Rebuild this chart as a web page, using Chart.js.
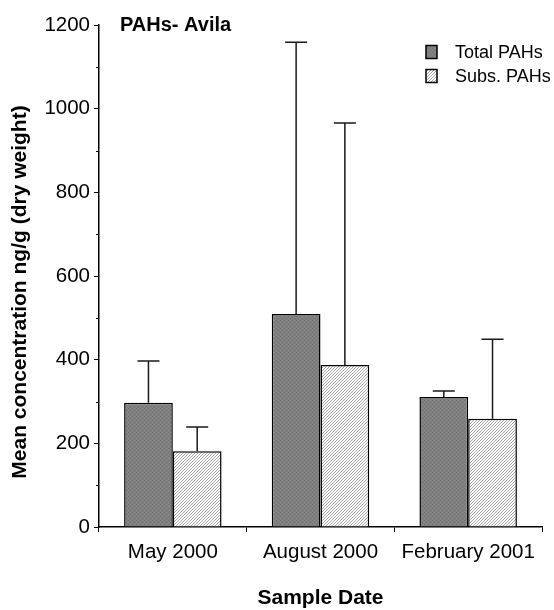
<!DOCTYPE html>
<html>
<head>
<meta charset="utf-8">
<script src="https://cdn.jsdelivr.net/npm/chart.js@4/dist/chart.umd.min.js"></script>
<style>
html,body{margin:0;padding:0;background:#fff;}
#wrap{width:554px;height:610px;position:relative;}
</style>
</head>
<body>
<div id="wrap"><canvas id="c" width="554" height="610"></canvas></div>
<script>
const categories = ["May 2000", "August 2000", "February 2001"];
const seriesNames = ["Total PAHs", "Subs. PAHs"];
const totalMeans = [297, 509, 311];
const totalErrTops = [397, 1159, 325];
const subsMeans = [181, 387, 259];
const subsErrTops = [239, 966, 449];
const yTicks = [0, 200, 400, 600, 800, 1000, 1200];
const yMinorTicks = [100, 300, 500, 700, 900, 1100];
const chartTitle = "PAHs- Avila";
const xTitle = "Sample Date";
const yTitle = "Mean concentration ng/g (dry weight)";

const FONT = "'Liberation Sans', Arial, Helvetica, sans-serif";

function makeDots() {
  const c = document.createElement('canvas'); c.width = 4; c.height = 4;
  const x = c.getContext('2d');
  x.fillStyle = '#7f7f7f'; x.fillRect(0, 0, 4, 4);
  x.fillStyle = '#727272'; x.fillRect(0, 0, 1, 1); x.fillRect(2, 2, 1, 1);
  x.fillStyle = '#898989'; x.fillRect(2, 0, 1, 1); x.fillRect(0, 2, 1, 1);
  return x.createPattern(c, 'repeat');
}
function makeHatch() {
  const c = document.createElement('canvas'); c.width = 3; c.height = 3;
  const x = c.getContext('2d');
  x.fillStyle = '#ffffff'; x.fillRect(0, 0, 3, 3);
  x.fillStyle = '#a6a6a6';
  for (let i = 0; i < 3; i++) x.fillRect(2 - i, i, 1, 1);
  return x.createPattern(c, 'repeat');
}
const dotFill = makeDots();
const hatchFill = makeHatch();
const errTops = [totalErrTops, subsErrTops];

const errorBarPlugin = {
  id: 'errorBars',
  afterDatasetsDraw(chart) {
    const ctx = chart.ctx;
    const y = chart.scales.y;
    ctx.save();
    ctx.strokeStyle = '#1a1a1a';
    ctx.lineWidth = 1.5;
    chart.data.datasets.forEach((ds, di) => {
      const meta = chart.getDatasetMeta(di);
      meta.data.forEach((bar, i) => {
        const top = y.getPixelForValue(errTops[di][i]);
        const cap = 11;
        ctx.beginPath();
        ctx.moveTo(bar.x, bar.y);
        ctx.lineTo(bar.x, top);
        ctx.moveTo(bar.x - cap, top);
        ctx.lineTo(bar.x + cap, top);
        ctx.stroke();
      });
    });
    ctx.restore();
  }
};

const decorPlugin = {
  id: 'decor',
  afterDraw(chart) {
    const ctx = chart.ctx;
    const a = chart.chartArea;
    const y = chart.scales.y;
    ctx.save();
    ctx.strokeStyle = '#000';
    ctx.lineWidth = 1;
    yMinorTicks.forEach(v => {
      const py = Math.round(y.getPixelForValue(v)) + 0.5;
      ctx.beginPath();
      ctx.moveTo(a.left - 3, py);
      ctx.lineTo(a.left, py);
      ctx.stroke();
    });
    ctx.fillStyle = '#000';
    ctx.font = 'bold 20px ' + FONT;
    ctx.textAlign = 'left';
    ctx.textBaseline = 'alphabetic';
    ctx.fillText(chartTitle, a.left + 21, 31);
    ctx.save();
    ctx.translate(20, 292);
    ctx.rotate(-Math.PI / 2);
    ctx.font = 'bold 21px ' + FONT;
    ctx.textAlign = 'center';
    ctx.textBaseline = 'middle';
    ctx.fillText(yTitle, 0, 0);
    ctx.restore();
    const bx = a.right - 116;
    const rows = [a.top + 27, a.top + 51];
    chart.data.datasets.forEach((ds, i) => {
      const cy = rows[i];
      ctx.fillStyle = ds.backgroundColor;
      ctx.fillRect(bx, cy - 6.5, 11, 13);
      ctx.strokeStyle = '#000';
      ctx.lineWidth = 1.5;
      ctx.strokeRect(bx, cy - 6.5, 11, 13);
      ctx.fillStyle = '#000';
      ctx.font = '18px ' + FONT;
      ctx.textAlign = 'left';
      ctx.textBaseline = 'middle';
      ctx.fillText(ds.label, bx + 29, cy + 1);
    });
    ctx.restore();
  }
};

new Chart(document.getElementById('c'), {
  type: 'bar',
  data: {
    labels: categories,
    datasets: [
      { label: seriesNames[0], data: totalMeans, backgroundColor: dotFill, borderColor: '#000', borderWidth: 1.5 },
      { label: seriesNames[1], data: subsMeans, backgroundColor: hatchFill, borderColor: '#000', borderWidth: 1.5 }
    ]
  },
  options: {
    responsive: false,
    animation: false,
    devicePixelRatio: 1,
    categoryPercentage: 0.66,
    barPercentage: 1.0,
    layout: { padding: { left: 0, right: 12, top: 25, bottom: 0 } },
    plugins: {
      legend: { display: false },
      tooltip: { enabled: false },
      title: { display: false }
    },
    scales: {
      x: {
        grid: { display: true, drawOnChartArea: false, drawTicks: true, tickLength: 5, offset: true, color: '#000', lineWidth: 1 },
        border: { display: true, color: '#000', width: 1.5 },
        ticks: { color: '#000', font: { family: FONT, size: 20.5 }, padding: 8, maxRotation: 0 },
        title: { display: true, text: xTitle, color: '#000', font: { family: FONT, size: 21, weight: 'bold' }, padding: { top: 0, bottom: -1 } },
        afterFit(s) { s.height = 83; }
      },
      y: {
        min: 0, max: 1200,
        afterBuildTicks(s) { s.ticks = yTicks.map(v => ({ value: v })); },
        grid: { display: true, drawOnChartArea: false, drawTicks: true, tickLength: 5, color: '#000', lineWidth: 1 },
        border: { display: true, color: '#000', width: 1.5 },
        ticks: { color: '#000', font: { family: FONT, size: 20.5 }, padding: 4, callback: (v) => String(v) },
        afterFit(s) { s.width = 99; }
      }
    }
  },
  plugins: [errorBarPlugin, decorPlugin]
});
</script>
</body>
</html>
